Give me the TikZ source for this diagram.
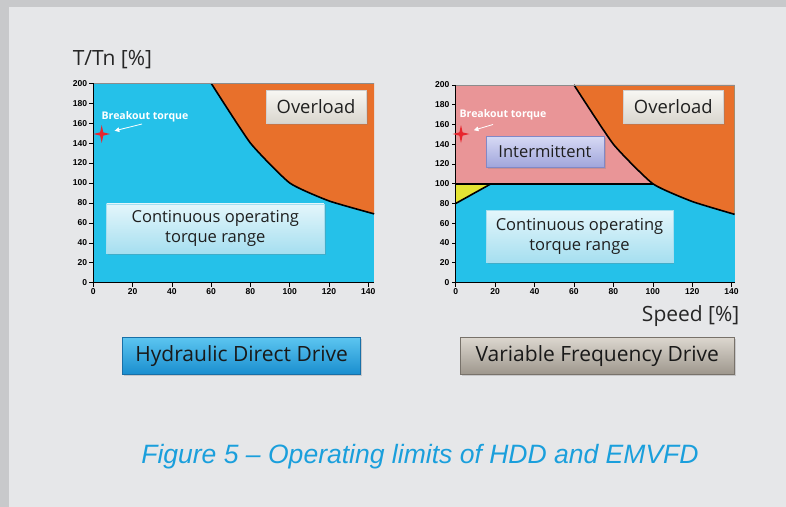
\documentclass[tikz,border=0pt]{standalone}
\usepackage{xcolor}
\usepackage{fontspec}
\setmainfont{Open Sans}
\newfontfamily\arialfont{Liberation Sans}
\usepackage{tikz}
\usetikzlibrary{shadows,arrows.meta}

\definecolor{framegray}{HTML}{C8C9CB}
\definecolor{panelgray}{HTML}{E6E7E9}
\definecolor{contblue}{HTML}{25C1E9}
\definecolor{overorange}{HTML}{E8702B}
\definecolor{interpink}{HTML}{E99597}
\definecolor{lowyellow}{HTML}{E4E433}
\definecolor{capblue}{HTML}{1A9FDC}
\definecolor{starred}{HTML}{E8262E}
\definecolor{overtop}{HTML}{F8F7F3}
\definecolor{overbot}{HTML}{D9D6CE}
\definecolor{conttop}{HTML}{E4F6FB}
\definecolor{contbot}{HTML}{A6DFF0}
\definecolor{intertop}{HTML}{D6D9F4}
\definecolor{interbot}{HTML}{A0A5DB}
\definecolor{interline}{HTML}{8288C6}
\definecolor{hddtop}{HTML}{5CC5F0}
\definecolor{hddbot}{HTML}{1A8ECF}
\definecolor{hddline}{HTML}{1870A8}
\definecolor{vfdtop}{HTML}{DCD7CF}
\definecolor{vfdbot}{HTML}{9E978D}
\definecolor{vfdline}{HTML}{78726A}

% axes, ticks and tick labels of one chart (#1 name prefix, #2 right end)
\newcommand{\chartaxes}[2]{%
  \draw[black!45] (0,200) -- (#2,200);
  \draw[line width=0.7pt] (0,200) -- (0,0) -- (#2,0);
  \foreach \v in {0,20,...,200}{
    \draw (0,\v) -- ++(-3pt,0);
    \node[ticklbl, anchor=east] (#1y\v) at ([xshift=-4.5pt]0,\v) {\v};
  }
  \foreach \v in {0,20,...,140}{
    \draw (\v,0) -- ++(0,-3pt);
    \node[ticklbl, anchor=north] (#1x\v) at ([yshift=-4.5pt]\v,0) {\v};
  }
}

% four-point star round a named coordinate
\newcommand{\brkstar}[1]{%
  \fill[starred] ([shift={(0,-9)}]#1) -- ([shift={(1.6,-1.6)}]#1) -- ([shift={(8.5,0)}]#1)
    -- ([shift={(1.6,1.6)}]#1) -- ([shift={(0,9)}]#1) -- ([shift={(-1.6,1.6)}]#1)
    -- ([shift={(-8.5,0)}]#1) -- ([shift={(-1.6,-1.6)}]#1) -- cycle;
}

\begin{document}
\begin{tikzpicture}[
    x=0.75pt, y=-0.75pt,
    ticklbl/.style={font=\arialfont\bfseries\fontsize{6.4}{7}\selectfont, inner sep=0pt},
    axislbl/.style={font=\fontsize{15.75}{18}\selectfont, text=black!85, inner sep=0pt},
    boxshadow/.style={drop shadow={shadow xshift=1.2pt, shadow yshift=-1.2pt, opacity=0.3}},
    overbox/.style={top color=overtop, bottom color=overbot, draw=black!18,
      minimum width=75pt, minimum height=25pt, inner sep=0pt, boxshadow,
      font=\fontsize{13.8}{16}\selectfont, text=black!88},
    contbox/.style={top color=conttop, bottom color=contbot, draw=contbot,
      inner sep=0pt, align=center, boxshadow,
      font=\fontsize{12.4}{15}\selectfont, text=black!88},
    interbox/.style={top color=intertop, bottom color=interbot, draw=interline,
      minimum width=88.5pt, minimum height=23pt, inner sep=0pt, boxshadow,
      font=\fontsize{12.4}{15}\selectfont, text=black!88},
    drivebtn/.style={minimum height=27.5pt, inner sep=0pt, boxshadow,
      font=\fontsize{15.75}{18}\selectfont, text=black!90},
    brklbl/.style={font=\bfseries\fontsize{7.9}{9}\selectfont, text=white, inner sep=0pt},
    brkarrow/.style={white, line width=0.6pt, -{Triangle[length=3.5pt,width=3.5pt]}, shorten >=10pt}
  ]
  \useasboundingbox (0,0) rectangle (786,507);
  \fill[framegray] (0,0) rectangle (786,507);
  \fill[panelgray] (8.5,7.3) rectangle (786,507);

  % hydraulic direct drive
  \begin{scope}[shift={(93.3,282.7)}, x=1.473pt, y=0.748pt]
    \fill[contblue] (0,0) rectangle (143,200);
    \fill[overorange] plot[smooth, tension=0.3] coordinates {(60,200) (80,140) (100,100) (120,82) (143,69)}
      -- (143,200) -- cycle;
    \draw[line width=1.2pt] plot[smooth, tension=0.3] coordinates {(60,200) (80,140) (100,100) (120,82) (143,69)};
    \chartaxes{L}{143}
  \end{scope}

  % variable frequency drive
  \begin{scope}[shift={(455.7,282.5)}, x=1.478pt, y=0.741pt]
    \fill[contblue] (0,0) rectangle (141.5,200);
    \fill[interpink] (0,100) rectangle (100,200);
    \fill[lowyellow] (0,80) -- (0,100) -- (18,100) -- cycle;
    \fill[overorange] plot[smooth, tension=0.3] coordinates {(60,200) (80,140) (100,100) (120,82) (141.5,69)}
      -- (141.5,200) -- cycle;
    \draw[line width=1.2pt] plot[smooth, tension=0.3] coordinates {(60,200) (80,140) (100,100) (120,82) (141.5,69)};
    \draw[line width=1.2pt] (0,80) -- (18,100);
    \draw[line width=1.2pt] (0,100) -- (100,100);
    \chartaxes{R}{141.5}
  \end{scope}

  \node[axislbl, anchor=base west] (ttn) at (72.5,65) {T/Tn [\%]};
  \node[axislbl, anchor=base west] (speed) at (641.7,321) {Speed [\%]};

  \node[overbox] (overL) at (316,106.7) {Overload};
  \node[overbox] (overR) at (673.3,106.7) {Overload};
  \node[contbox, minimum width=163pt, minimum height=37pt] (contL) at (215.3,228.5)
    {Continuous operating\\torque range};
  \node[contbox, minimum width=140pt, minimum height=39pt] (contR) at (579.5,236)
    {Continuous operating\\torque range};
  \node[interbox] (inter) at (545,152) {Intermittent};

  % breakout torque markers
  \coordinate (starL) at (101.7,134);
  \brkstar{starL}
  \node[brklbl] (brkL) at (145,117) {Breakout torque};
  \coordinate (tailL) at (142,124);
  \draw[brkarrow] (tailL) -- (starL);
  \coordinate (starR) at (461,134);
  \brkstar{starR}
  \node[brklbl] (brkR) at (503,115) {Breakout torque};
  \coordinate (tailR) at (493,124.5);
  \draw[brkarrow] (tailR) -- (starR);

  \node[drivebtn, top color=hddtop, bottom color=hddbot, draw=hddline,
    minimum width=178.5pt] (hdd) at (241.7,355.7) {Hydraulic Direct Drive};
  \node[drivebtn, top color=vfdtop, bottom color=vfdbot, draw=vfdline,
    minimum width=205pt] (vfd) at (597.3,355.7) {Variable Frequency Drive};

  \node[font=\arialfont\itshape\fontsize{19.9}{22}\selectfont, text=capblue, anchor=base, inner sep=0pt]
    (cap) at (420,463) {Figure 5 – Operating limits of HDD and EMVFD};
\end{tikzpicture}
\end{document}
